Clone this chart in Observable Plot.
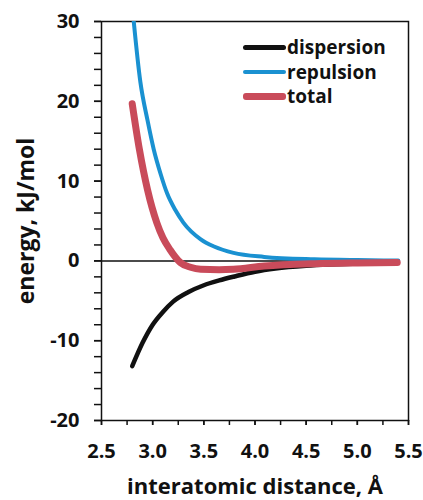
<!DOCTYPE html>
<html>
<head>
<meta charset="utf-8">
<script src="https://cdn.jsdelivr.net/npm/d3@7"></script>
<script src="https://cdn.jsdelivr.net/npm/@observablehq/plot@0.6"></script>
<style>
  body { margin: 0; background: #fff; }
  #wrap { position: relative; width: 423px; height: 500px; font-family: "Open Sans", sans-serif; }
  #legend { position: absolute; left: 243px; top: 35px; font-weight: 700; font-size: 19px; color: #111; }
  .row { display: flex; align-items: center; height: 24.5px; }
  .sw { width: 43px; border-radius: 3px; margin-right: 1px; }
</style>
</head>
<body>
<div id="wrap"><div id="legend"></div></div>
<script>
// ---- data ----
const seriesNames = ["dispersion", "repulsion", "total"];
const seriesColors = ["#111111", "#1a91d1", "#c94b5a"];
const seriesWidths = [4.5, 4, 7];

const dispersionR = [2.8, 2.9, 3.0, 3.1, 3.2, 3.35, 3.5, 3.65, 3.8, 4.0, 4.2, 4.5, 4.8, 5.2];
const dispersionE = [-13.2, -10.3, -8.0, -6.4, -5.1, -3.9, -3.05, -2.45, -1.95, -1.35, -0.95, -0.6, -0.42, -0.25];

const repulsionR = [2.8, 2.88, 2.95, 3.01, 3.08, 3.14, 3.22, 3.3, 3.47, 3.6, 3.79, 4.09, 4.58, 5.0, 5.4];
const repulsionE = [32.0, 22.4, 17.6, 14.0, 10.8, 8.5, 6.4, 4.8, 2.7, 1.8, 1.0, 0.5, 0.2, 0.1, 0.05];

const totalR = [2.8, 2.87, 2.95, 3.04, 3.1, 3.17, 3.27, 3.37, 3.47, 3.65, 3.79, 4.09, 4.58, 5.0, 5.39];
const totalE = [19.7, 14.0, 8.9, 4.8, 2.9, 1.4, -0.2, -0.8, -1.06, -1.12, -1.06, -0.65, -0.35, -0.25, -0.2];

const zeroLineR = [2.5, 5.25];

const xTickLabels = [2.5, 3.0, 3.5, 4.0, 4.5, 5.0, 5.5];
const xMinorTicks = [2.5, 2.75, 3.0, 3.25, 3.5, 3.75, 4.0, 4.25, 4.5, 4.75, 5.0, 5.25, 5.5];
const yTickLabels = [-20, -10, 0, 10, 20, 30];
const yMinorTicks = [-20, -18, -16, -14, -12, -10, -8, -6, -4, -2, 0, 2, 4, 6, 8, 10, 12, 14, 16, 18, 20, 22, 24, 26, 28, 30];

const xTitle = "interatomic distance, Å";
const yTitle = "energy, kJ/mol";

// ---- build ----
const toRows = (R, E) => R.map((r, i) => ({r, e: E[i]}));
const dispersion = toRows(dispersionR, dispersionE);
const repulsion = toRows(repulsionR, repulsionE);
const total = toRows(totalR, totalE);
const zeroLine = zeroLineR.map(r => ({r, e: 0}));
const hyphenFormat = d => (d < 0 ? "-" : "") + Math.abs(d);

const chart = Plot.plot({
  width: 423,
  height: 500,
  marginLeft: 101,
  marginRight: 15,
  marginTop: 21,
  marginBottom: 80,
  style: {fontFamily: "Open Sans, sans-serif", fontWeight: 700, fontSize: "20px", color: "#111", background: "#fff"},
  x: {domain: [2.5, 5.5]},
  y: {domain: [-20, 30]},
  marks: [
    Plot.axisX({ticks: xMinorTicks, tickSize: 5, tickFormat: () => "", label: null, strokeWidth: 1.5}),
    Plot.axisX({ticks: xTickLabels, tickSize: 5, tickPadding: 18, tickFormat: d3.format(".1f"), label: null, strokeWidth: 1.5}),
    Plot.axisY({ticks: yMinorTicks, tickSize: 7, tickFormat: () => "", label: null, strokeWidth: 1.5}),
    Plot.axisY({ticks: yTickLabels, tickSize: 7, tickPadding: 15, tickFormat: hyphenFormat, label: null, strokeWidth: 1.5}),
    Plot.frame({stroke: "#111", strokeWidth: 1.5}),
    Plot.line(zeroLine, {x: "r", y: "e", stroke: "#111", strokeWidth: 1.5}),
    Plot.line(repulsion, {x: "r", y: "e", stroke: seriesColors[1], strokeWidth: seriesWidths[1], curve: "monotone-x", clip: true}),
    Plot.line(dispersion, {x: "r", y: "e", stroke: seriesColors[0], strokeWidth: seriesWidths[0], curve: "monotone-x", strokeLinecap: "round"}),
    Plot.line(total, {x: "r", y: "e", stroke: seriesColors[2], strokeWidth: seriesWidths[2], curve: "monotone-x", strokeLinecap: "round"}),
    Plot.text([xTitle], {frameAnchor: "bottom", lineAnchor: "bottom", dy: 73, fontSize: 22, fontWeight: 700, fill: "#111"}),
    Plot.text([yTitle], {frameAnchor: "left", textAnchor: "middle", lineAnchor: "middle", dx: -75, rotate: -90, fontSize: 23, fontWeight: 700, fill: "#111"})
  ]
});

const wrap = document.getElementById("wrap");
wrap.insertBefore(chart, wrap.firstChild);

const legend = document.getElementById("legend");
seriesNames.forEach((name, i) => {
  const row = document.createElement("div");
  row.className = "row";
  const sw = document.createElement("div");
  sw.className = "sw";
  sw.style.height = seriesWidths[i] + "px";
  sw.style.background = seriesColors[i];
  const t = document.createElement("span");
  t.textContent = name;
  row.appendChild(sw);
  row.appendChild(t);
  legend.appendChild(row);
});
</script>
</body>
</html>
